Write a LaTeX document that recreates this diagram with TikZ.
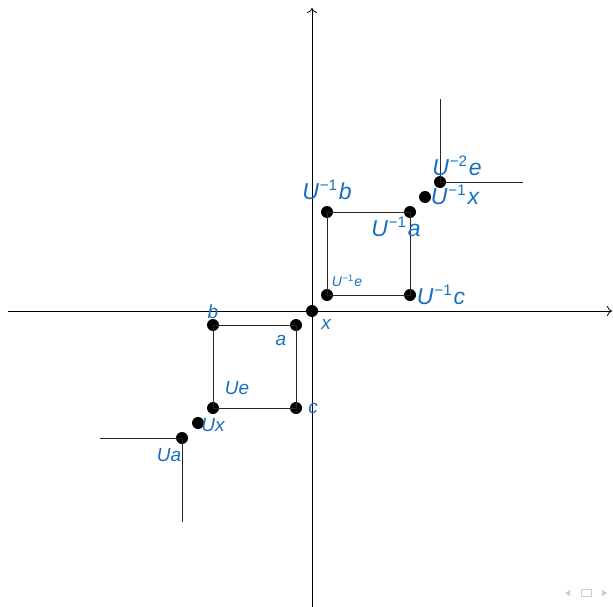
\documentclass[tikz,border=0pt]{standalone}
\usepackage{fontspec}
\setmainfont{Liberation Sans}
\usetikzlibrary{arrows.meta}
\definecolor{lblue}{RGB}{22,112,190}
\definecolor{navc}{RGB}{200,200,232}
\newcommand{\mysup}[1]{\kern0.04em\raisebox{0.40em}{\upshape\fontsize{0.66\dimexpr\fontdimen6\font\relax}{1pt}\selectfont #1}\kern0.08em}
\newcommand{\myinv}{\mysup{−1}}
\newcommand{\myinvtwo}{\mysup{−2}}
\begin{document}
\begin{tikzpicture}[x=1pt,y=-1pt,
  dot/.style={circle,fill=black,inner sep=0pt,minimum size=12pt},
  lbl/.style={text=lblue,font=\fontsize{19}{21}\selectfont\itshape,inner sep=0pt},
  blbl/.style={text=lblue,font=\fontsize{23}{25}\selectfont\itshape,inner sep=0pt},
  slbl/.style={text=lblue,font=\fontsize{14}{16}\selectfont\itshape,inner sep=0pt},
  edgeline/.style={draw=black!85,line width=0.9pt},
  axisline/.style={draw=black,line width=0.8pt,-{To[length=5pt,width=10pt]}}]
\useasboundingbox (0,0) rectangle (613,607);
% axes
\coordinate (xl) at (8,311);
\coordinate (xr) at (612,311);
\coordinate (yb) at (312,607);
\coordinate (yt) at (312,8);
\draw[axisline] (xl) -- (xr);
\draw[axisline] (yb) -- (yt);
% free ends of corner lines
\coordinate (uaL) at (100,438);
\coordinate (uaD) at (182,522);
\coordinate (u2U) at (440,99);
\coordinate (u2R) at (523,182);
% dots
\node[dot] (x) at (312,311) {};
\node[dot] (a) at (296,325) {};
\node[dot] (b) at (213,325) {};
\node[dot] (c) at (296,408) {};
\node[dot] (ue) at (213,408) {};
\node[dot] (ux) at (198,423) {};
\node[dot] (ua) at (182,438) {};
\node[dot] (uie) at (327,295) {};
\node[dot] (uic) at (410,295) {};
\node[dot] (uib) at (327,212) {};
\node[dot] (uia) at (410,212) {};
\node[dot] (uix) at (425,197) {};
\node[dot] (u2e) at (440,182) {};
% squares
\draw[edgeline] (b.center) -- (a.center) -- (c.center) -- (ue.center) -- cycle;
\draw[edgeline] (uib.center) -- (uia.center) -- (uic.center) -- (uie.center) -- cycle;
% corner lines
\draw[edgeline] (uaL) -- (ua.center) -- (uaD);
\draw[edgeline] (u2U) -- (u2e.center) -- (u2R);
% labels
\node[lbl] (lb) at (213,312) {b};
\node[lbl] (la) at (281,340) {a};
\node[lbl] (lx) at (326,324) {x};
\node[lbl] (lc) at (313,408) {c};
\node[lbl] (lue) at (237,388) {Ue};
\node[lbl] (lux) at (213,425) {Ux};
\node[lbl] (lua) at (169,455) {Ua};
\node[blbl] (luib) at (327,190) {U\myinv b};
\node[blbl] (luia) at (396,227) {U\myinv a};
\node[blbl] (luix) at (455,195) {U\myinv x};
\node[blbl] (lu2e) at (457,166) {U\myinvtwo e};
\node[blbl] (luic) at (441,295) {U\myinv c};
\node[slbl] (luie) at (347,281) {U\myinv e};
% navigation symbols
\fill[navc] (565,593) -- (570,590) -- (570,596) -- cycle;
\draw[navc,line width=0.8pt] (581,589) rectangle (591,596);
\fill[navc] (607,593) -- (602,590) -- (602,596) -- cycle;
\end{tikzpicture}
\end{document}
